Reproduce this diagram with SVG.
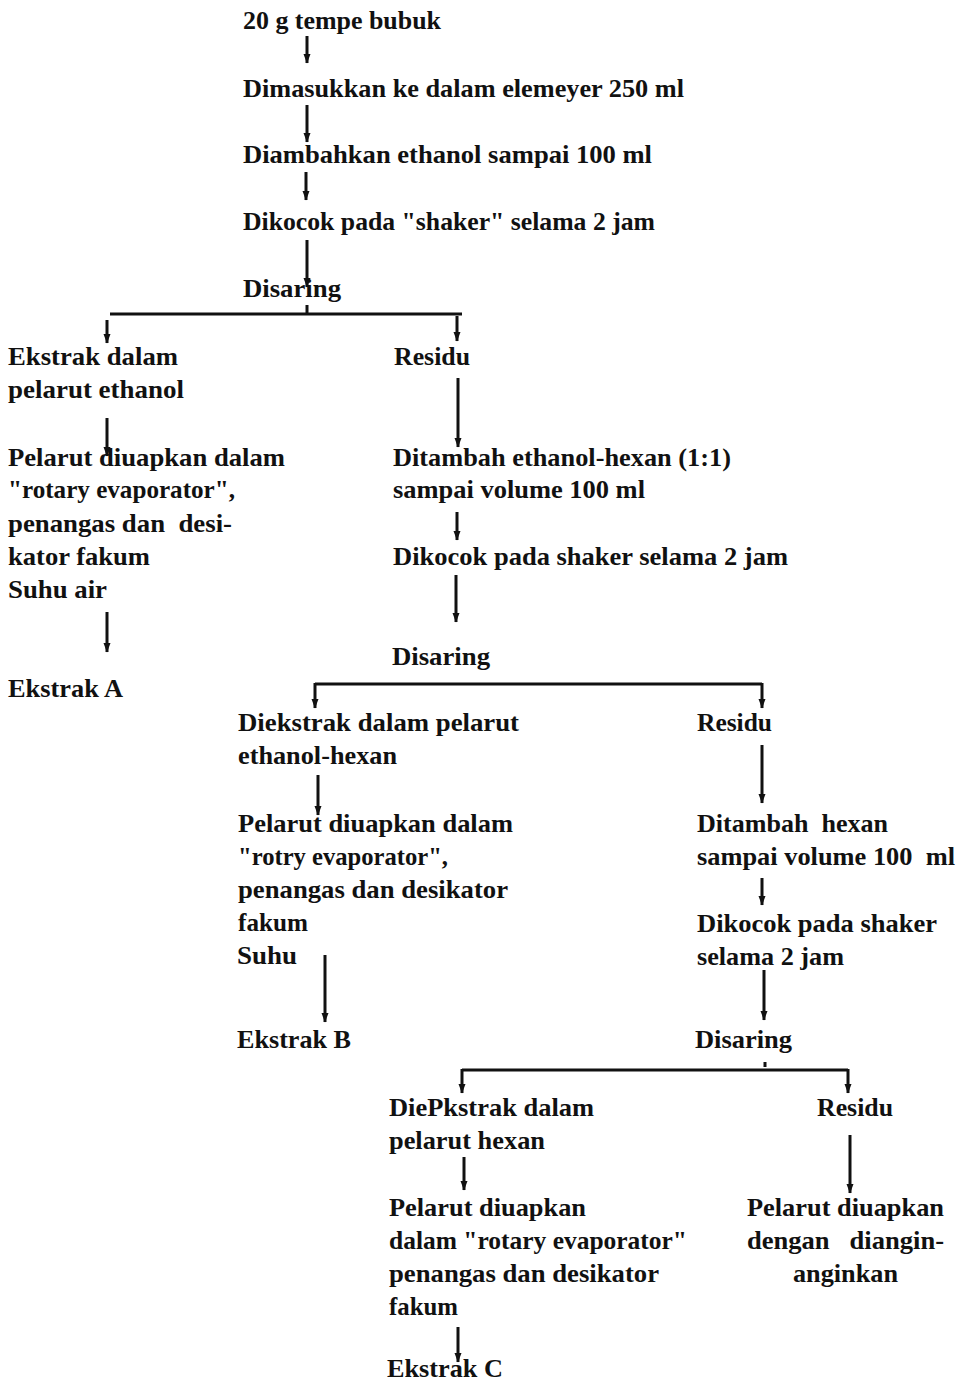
<svg xmlns="http://www.w3.org/2000/svg" width="964" height="1385" viewBox="0 0 964 1385">
<style>
.t{font-family:"Liberation Serif","Times New Roman",serif;font-weight:bold;font-size:26px;fill:#111;white-space:pre}
.c line{stroke:#111;stroke-width:3;fill:none}
.a{marker-end:url(#ah)}
</style>
<defs>
<marker id="ah" viewBox="0 -4 10 8" refX="9" refY="0" markerWidth="10" markerHeight="8" markerUnits="userSpaceOnUse" orient="auto">
<path d="M0,-3.5 L9.5,0 L0,3.5 z" fill="#111"/>
</marker>
</defs>
<rect width="964" height="1385" fill="#fff"/>
<g id="connectors" class="c">
<line class="a" x1="307" y1="36" x2="307" y2="63"/>
<line class="a" x1="307" y1="105" x2="307" y2="142"/>
<line class="a" x1="306" y1="172" x2="306" y2="200"/>
<line class="a" x1="307" y1="240" x2="307" y2="287"/>
<line x1="307" y1="305" x2="307" y2="314"/>
<line x1="110" y1="314" x2="462" y2="314"/>
<line class="a" x1="107" y1="320" x2="107" y2="343"/>
<line class="a" x1="457" y1="316" x2="457" y2="341"/>
<line class="a" x1="107" y1="418" x2="107" y2="456"/>
<line class="a" x1="107" y1="612" x2="107" y2="652"/>
<line class="a" x1="458" y1="378" x2="458" y2="447"/>
<line class="a" x1="457" y1="512" x2="457" y2="540"/>
<line class="a" x1="456" y1="575" x2="456" y2="622"/>
<line x1="315" y1="684" x2="762" y2="684"/>
<line class="a" x1="315" y1="683" x2="315" y2="708"/>
<line class="a" x1="762" y1="683" x2="762" y2="708"/>
<line class="a" x1="318" y1="775" x2="318" y2="815"/>
<line class="a" x1="325" y1="955" x2="325" y2="1022"/>
<line class="a" x1="762" y1="745" x2="762" y2="803"/>
<line class="a" x1="762" y1="878" x2="762" y2="905"/>
<line class="a" x1="764" y1="970" x2="764" y2="1020"/>
<line x1="765" y1="1062" x2="765" y2="1067"/>
<line x1="462" y1="1070" x2="848" y2="1070"/>
<line class="a" x1="462" y1="1069" x2="462" y2="1093"/>
<line class="a" x1="848" y1="1069" x2="848" y2="1093"/>
<line class="a" x1="464" y1="1157" x2="464" y2="1190"/>
<line class="a" x1="458" y1="1327" x2="458" y2="1362"/>
<line class="a" x1="850" y1="1135" x2="850" y2="1193"/>
</g>
<g id="n1"><text class="t" x="243" y="29" textLength="198" lengthAdjust="spacingAndGlyphs">20 g tempe bubuk</text></g>
<g id="n2"><text class="t" x="243" y="97" textLength="441" lengthAdjust="spacingAndGlyphs">Dimasukkan ke dalam elemeyer 250 ml</text></g>
<g id="n3"><text class="t" x="243" y="163" textLength="409" lengthAdjust="spacingAndGlyphs">Diambahkan ethanol sampai 100 ml</text></g>
<g id="n4"><text class="t" x="243" y="230" textLength="412" lengthAdjust="spacingAndGlyphs">Dikocok pada "shaker" selama 2 jam</text></g>
<g id="n5"><text class="t" x="243" y="297" textLength="98" lengthAdjust="spacingAndGlyphs">Disaring</text></g>
<g id="n6">
<text class="t" x="8" y="365" textLength="170" lengthAdjust="spacingAndGlyphs">Ekstrak dalam</text>
<text class="t" x="8" y="398" textLength="176" lengthAdjust="spacingAndGlyphs">pelarut ethanol</text>
</g>
<g id="n7"><text class="t" x="394" y="365" textLength="76" lengthAdjust="spacingAndGlyphs">Residu</text></g>
<g id="n8">
<text class="t" x="8" y="466" textLength="277" lengthAdjust="spacingAndGlyphs">Pelarut diuapkan dalam</text>
<text class="t" x="8" y="498" textLength="227" lengthAdjust="spacingAndGlyphs">"rotary evaporator",</text>
<text class="t" x="8" y="532" textLength="224" lengthAdjust="spacingAndGlyphs">penangas dan  desi-</text>
<text class="t" x="8" y="565" textLength="142" lengthAdjust="spacingAndGlyphs">kator fakum</text>
<text class="t" x="8" y="598" textLength="99" lengthAdjust="spacingAndGlyphs">Suhu air</text>
</g>
<g id="n9"><text class="t" x="8" y="697" textLength="115" lengthAdjust="spacingAndGlyphs">Ekstrak A</text></g>
<g id="n10">
<text class="t" x="393" y="466" textLength="338" lengthAdjust="spacingAndGlyphs">Ditambah ethanol-hexan (1:1)</text>
<text class="t" x="393" y="498" textLength="252" lengthAdjust="spacingAndGlyphs">sampai volume 100 ml</text>
</g>
<g id="n11"><text class="t" x="393" y="565" textLength="395" lengthAdjust="spacingAndGlyphs">Dikocok pada shaker selama 2 jam</text></g>
<g id="n12"><text class="t" x="392" y="665" textLength="98" lengthAdjust="spacingAndGlyphs">Disaring</text></g>
<g id="n13">
<text class="t" x="238" y="731" textLength="281" lengthAdjust="spacingAndGlyphs">Diekstrak dalam pelarut</text>
<text class="t" x="238" y="764" textLength="159" lengthAdjust="spacingAndGlyphs">ethanol-hexan</text>
</g>
<g id="n14">
<text class="t" x="238" y="832" textLength="275" lengthAdjust="spacingAndGlyphs">Pelarut diuapkan dalam</text>
<text class="t" x="238" y="865" textLength="210" lengthAdjust="spacingAndGlyphs">"rotry evaporator",</text>
<text class="t" x="238" y="898" textLength="270" lengthAdjust="spacingAndGlyphs">penangas dan desikator</text>
<text class="t" x="238" y="931" textLength="70" lengthAdjust="spacingAndGlyphs">fakum</text>
<text class="t" x="237" y="964" textLength="60" lengthAdjust="spacingAndGlyphs">Suhu</text>
</g>
<g id="n15"><text class="t" x="237" y="1048" textLength="114" lengthAdjust="spacingAndGlyphs">Ekstrak B</text></g>
<g id="n16"><text class="t" x="697" y="731" textLength="75" lengthAdjust="spacingAndGlyphs">Residu</text></g>
<g id="n17">
<text class="t" x="697" y="832" textLength="191" lengthAdjust="spacingAndGlyphs">Ditambah  hexan</text>
<text class="t" x="697" y="865" textLength="258" lengthAdjust="spacingAndGlyphs">sampai volume 100  ml</text>
</g>
<g id="n18">
<text class="t" x="697" y="932" textLength="240" lengthAdjust="spacingAndGlyphs">Dikocok pada shaker</text>
<text class="t" x="697" y="965" textLength="147" lengthAdjust="spacingAndGlyphs">selama 2 jam</text>
</g>
<g id="n19"><text class="t" x="695" y="1048" textLength="97" lengthAdjust="spacingAndGlyphs">Disaring</text></g>
<g id="n20">
<text class="t" x="389" y="1116" textLength="205" lengthAdjust="spacingAndGlyphs">DiePkstrak dalam</text>
<text class="t" x="389" y="1149" textLength="156" lengthAdjust="spacingAndGlyphs">pelarut hexan</text>
</g>
<g id="n21">
<text class="t" x="389" y="1216" textLength="197" lengthAdjust="spacingAndGlyphs">Pelarut diuapkan</text>
<text class="t" x="389" y="1249" textLength="298" lengthAdjust="spacingAndGlyphs">dalam "rotary evaporator"</text>
<text class="t" x="389" y="1282" textLength="270" lengthAdjust="spacingAndGlyphs">penangas dan desikator</text>
<text class="t" x="389" y="1315" textLength="69" lengthAdjust="spacingAndGlyphs">fakum</text>
</g>
<g id="n22"><text class="t" x="387" y="1377" textLength="116" lengthAdjust="spacingAndGlyphs">Ekstrak C</text></g>
<g id="n23"><text class="t" x="817" y="1116" textLength="76" lengthAdjust="spacingAndGlyphs">Residu</text></g>
<g id="n24">
<text class="t" x="747" y="1216" textLength="197" lengthAdjust="spacingAndGlyphs">Pelarut diuapkan</text>
<text class="t" x="747" y="1249" textLength="197" lengthAdjust="spacingAndGlyphs">dengan   diangin-</text>
<text class="t" x="793" y="1282" textLength="105" lengthAdjust="spacingAndGlyphs">anginkan</text>
</g>
</svg>
